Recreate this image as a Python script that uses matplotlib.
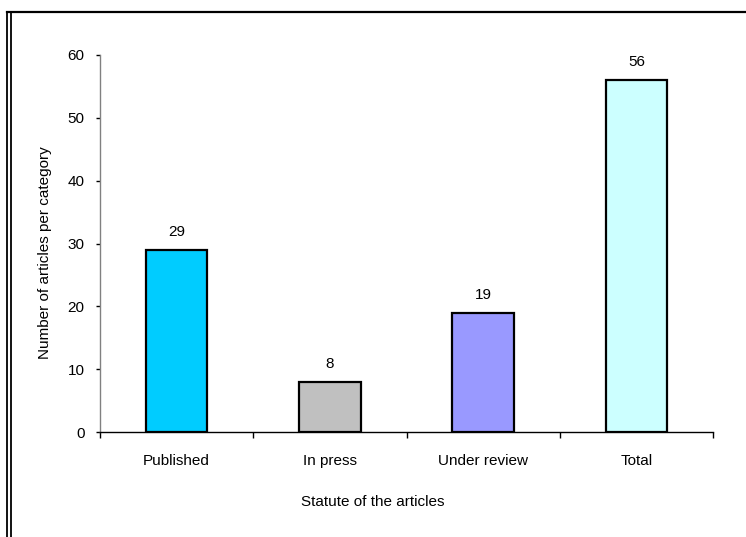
import matplotlib.pyplot as plt
from matplotlib.lines import Line2D

categories = ["Published", "In press", "Under review", "Total"]
counts = [29, 8, 19, 56]
colors = ["#00CCFF", "#C0C0C0", "#9999FF", "#CCFFFF"]

plt.rcParams['font.family'] = ['Liberation Sans', 'DejaVu Sans']

W, H = 746, 537
fs = 11
fig = plt.figure(figsize=(W / 100, H / 100), dpi=100)
ax = fig.add_axes([100 / W, 1 - 432 / H, 613 / W, 377 / H])

x = list(range(len(categories)))
bars = ax.bar(x, counts, width=0.4, color=colors, edgecolor="black", linewidth=1.6, zorder=3)

for xi, v in zip(x, counts):
    ax.annotate(str(v), (xi, v), xytext=(0, 8), textcoords="offset points",
                ha="center", va="bottom", fontsize=fs)

ax.set_xlim(-0.5, 3.5)
ax.set_ylim(0, 60)
ax.set_yticks(range(0, 61, 10))
ax.set_xticks(x)
ax.set_xticklabels(categories, fontsize=fs)
ax.set_xticks([-0.5, 0.5, 1.5, 2.5, 3.5], minor=True)
ax.tick_params(axis="x", which="major", length=0, pad=16)
ax.tick_params(axis="x", which="minor", length=4, width=1, direction="out")
ax.tick_params(axis="y", length=3, width=1, direction="out", pad=8, labelsize=fs)

for side in ["top", "right"]:
    ax.spines[side].set_visible(False)
ax.spines["left"].set_color("#808080")
ax.spines["left"].set_linewidth(1)
ax.spines["bottom"].set_color("black")
ax.spines["bottom"].set_linewidth(1)

ax.set_ylabel("Number of articles per category", fontsize=fs)
ax.yaxis.set_label_coords((52 - 100) / 613, 0.477)
fig.text(373 / W, 1 - 502 / H, "Statute of the articles", ha="center", va="center", fontsize=fs)

# outer frame (cut off on the right and bottom)
fig.add_artist(Line2D([7 / W, 1], [1 - 12 / H, 1 - 12 / H], color="black", linewidth=1.6))
fig.add_artist(Line2D([7 / W, 7 / W], [0, 1 - 12 / H], color="black", linewidth=1.3))
fig.add_artist(Line2D([10.5 / W, 10.5 / W], [0, 1 - 12 / H], color="black", linewidth=1.3))

fig.savefig("out.png", dpi=100)
